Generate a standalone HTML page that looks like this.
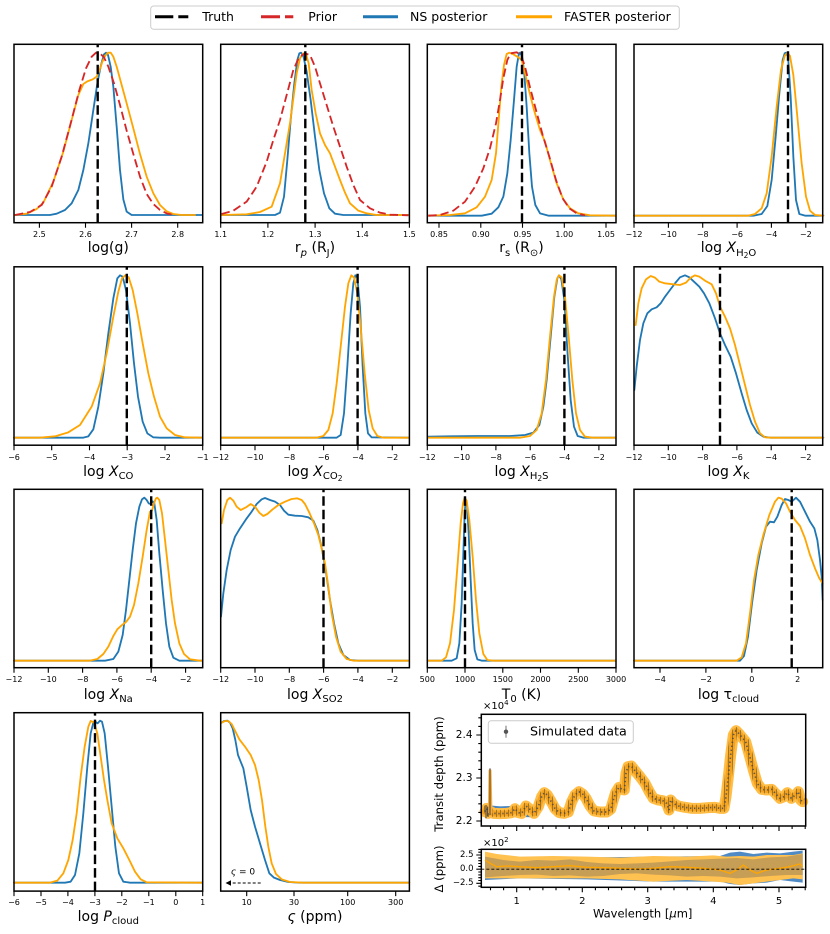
<!DOCTYPE html>
<html><head><meta charset="utf-8">
<style>
html,body{margin:0;padding:0;background:#fff}
body{width:830px;height:934px;position:relative;overflow:hidden;font-family:"DejaVu Sans","Liberation Sans",sans-serif;color:#000}
svg{position:absolute;left:0;top:0}
.t{position:absolute;font-size:8px;line-height:1;transform:translate(-50%,-50%);white-space:nowrap}
.al{position:absolute;font-size:14px;line-height:1;transform:translate(-50%,-50%);white-space:nowrap}
.al sub{font-size:10px;vertical-align:baseline;position:relative;top:3.5px}
.al sub sub{font-size:7.5px;top:2px}
.al i{font-style:italic}
.lg{position:absolute;font-size:12.5px;line-height:1;transform:translateY(-50%);white-space:nowrap}
.yr{position:absolute;line-height:1;transform:translate(-100%,-50%);white-space:nowrap}
</style></head><body>
<svg width="830" height="934" viewBox="0 0 830 934">
<defs>
<pattern id="eb" patternUnits="userSpaceOnUse" width="12" height="10"><rect x="0" y="0" width="2.5" height="10" fill="#3c3c3c" fill-opacity="0.55"/></pattern>
</defs>
<style>
.b{fill:none;stroke:#1f77b4;stroke-width:5.5;stroke-linejoin:round;stroke-linecap:round}
.o{fill:none;stroke:#ffa500;stroke-width:5.5;stroke-linejoin:round;stroke-linecap:round}
.r{fill:none;stroke:#d62728;stroke-width:5.5;stroke-dasharray:25 12;stroke-linejoin:round}
.k{stroke:#000;stroke-width:2.4;stroke-dasharray:9.5 4}
.fr{fill:none;stroke:#000;stroke-width:1.5}
.tk{stroke:#000;stroke-width:1.1;fill:none}
</style>

<g transform="translate(0 0) scale(0.333333)">
<polyline class="b" points="45,645 150,645 170,641 195,630 215,610 235,570 250,510 265,430 280,330 292,250 303,195 312,163 318,158 324,165 332,200 340,260 350,380 360,510 370,598 380,635 395,645 606,645"/>
<polyline class="o" points="45,645 80,641 110,627 130,608 160,545 190,455 215,360 235,285 250,252 262,244 278,238 290,230 298,212 306,188 315,168 324,158 332,158 340,170 350,200 365,255 380,310 400,385 420,462 440,530 460,580 480,615 500,634 520,642 545,645 585,645"/>
<polyline class="r" points="45,645 90,636 125,615 155,560 185,470 212,370 238,270 258,205 275,170 288,158 300,160 312,172 325,200 342,250 360,315 380,392 400,462 420,530 440,582 460,612 480,630 500,640 520,645"/>
<polyline class="b" points="665,645 825,645 840,638 852,590 862,480 872,360 883,250 892,180 898,160 903,158 910,168 920,215 932,300 945,410 958,510 972,580 988,625 1005,641 1030,645 1225,645"/>
<polyline class="o" points="665,645 740,643 780,636 815,620 840,550 855,460 870,370 882,280 890,220 900,175 910,160 918,162 926,190 935,270 947,340 960,400 975,435 990,460 1005,500 1020,540 1035,578 1050,610 1075,632 1100,640 1130,645 1225,645"/>
<polyline class="r" points="665,642 700,632 740,605 770,560 800,485 820,420 840,360 860,285 880,210 897,172 915,160 930,165 945,200 960,250 980,315 1000,380 1020,440 1040,500 1060,555 1080,600 1110,625 1140,638 1170,644 1225,646"/>
</g>
<g transform="translate(410 0) scale(0.333333)">
<polyline class="b" points="55,647 215,647 245,641 265,622 280,590 292,520 302,420 312,300 320,200 326,165 330,158 336,168 342,210 350,320 358,460 366,560 376,615 390,640 415,647 617,647"/>
<polyline class="o" points="55,647 120,645 165,640 200,622 225,590 245,540 258,460 266,360 274,260 282,195 290,162 298,158 310,163 325,172 335,180 345,220 358,275 372,330 390,390 405,425 420,480 440,550 460,598 480,625 505,640 540,646 617,647"/>
<polyline class="r" points="55,647 90,645 130,632 165,605 195,560 220,505 240,445 258,370 270,300 280,235 292,180 302,160 320,157 333,165 345,200 360,262 378,330 398,405 418,470 438,540 458,595 478,625 500,640 525,646"/>
<polyline class="b" points="672,647 1030,647 1055,642 1072,618 1085,540 1097,410 1108,280 1118,180 1124,160 1128,158 1134,168 1142,290 1150,470 1158,600 1168,642 1185,647 1240,647"/>
<polyline class="o" points="672,647 1015,647 1035,642 1055,625 1070,580 1085,470 1100,320 1113,210 1124,168 1132,158 1140,168 1150,225 1162,350 1175,490 1188,590 1200,632 1215,645 1240,647"/>
</g>
<g transform="translate(0 240) scale(0.333333)">
<polyline class="b" points="42,593 250,593 265,589 280,568 295,500 310,400 325,280 340,175 352,115 360,106 368,110 378,150 390,250 402,370 414,470 428,545 442,580 460,592 480,593 606,593"/>
<polyline class="o" points="42,593 120,593 165,589 205,577 240,555 275,500 300,430 320,340 340,230 355,155 366,115 376,106 386,112 398,150 412,220 428,310 445,400 462,470 480,530 500,565 525,585 555,592 606,593"/>
<polyline class="b" points="665,593 1010,593 1022,585 1032,520 1042,380 1052,220 1060,130 1066,106 1072,112 1080,200 1088,380 1096,520 1104,580 1115,592 1225,593"/>
<polyline class="o" points="665,593 950,593 970,588 985,570 998,520 1010,430 1022,320 1035,200 1045,130 1054,106 1062,112 1072,160 1082,260 1094,400 1106,510 1118,565 1132,588 1150,593 1225,593"/>
</g>
<g transform="translate(410 240) scale(0.333333)">
<polyline class="b" points="55,590 120,589 200,588 300,588 345,585 370,578 388,555 400,500 410,420 422,290 433,170 442,115 447,106 454,118 463,180 472,330 482,480 492,560 503,588 520,593 617,593"/>
<polyline class="o" points="55,593 330,593 360,588 380,570 395,520 408,420 420,290 432,170 440,120 447,106 455,112 465,170 476,290 487,420 498,520 510,570 525,590 550,593 617,593"/>
<polyline class="b" points="673,450 680,380 690,300 700,250 712,220 725,208 740,202 752,190 765,170 780,150 795,130 810,112 825,106 838,112 852,125 868,140 882,160 898,190 915,235 930,280 945,315 962,350 978,400 995,460 1010,510 1025,550 1042,578 1060,590 1080,593 1240,593"/>
<polyline class="o" points="677,255 685,190 695,145 708,118 722,108 735,113 748,125 765,130 790,133 810,135 828,128 842,113 855,106 868,110 885,122 905,133 918,160 930,200 945,230 960,265 975,315 990,375 1005,435 1020,495 1035,545 1050,580 1065,592 1085,593 1240,593"/>
</g>
<g transform="translate(0 480) scale(0.333333)">
<polyline class="b" points="42,542 315,542 340,537 355,515 368,465 378,390 388,300 398,210 408,130 418,80 426,58 433,53 440,60 446,70 452,72 458,64 463,70 470,120 478,220 488,330 498,430 508,500 520,533 538,542 606,542"/>
<polyline class="o" points="42,542 270,542 292,537 310,522 325,500 340,468 352,448 365,436 378,426 390,410 402,375 415,310 428,230 440,150 450,95 456,92 462,70 468,55 472,53 478,60 486,100 495,180 505,270 515,360 525,430 538,490 552,522 570,538 600,542 606,542"/>
<polyline class="b" points="663,410 670,340 680,270 692,210 705,170 720,145 738,118 755,95 770,72 785,58 795,54 810,60 825,65 840,75 852,92 865,104 885,107 905,108 925,112 940,122 952,150 962,190 970,230 980,290 990,360 1002,430 1015,490 1030,525 1050,540 1075,542 1225,542"/>
<polyline class="o" points="665,130 672,90 682,60 690,53 700,62 710,80 722,90 738,82 752,72 765,80 778,98 790,108 802,102 818,88 835,75 855,65 875,57 892,55 905,60 915,72 928,98 942,130 955,165 965,205 975,250 985,320 995,400 1008,470 1022,515 1040,537 1060,542 1225,542"/>
</g>
<g transform="translate(410 480) scale(0.333333)">
<polyline class="b" points="52,542 125,542 140,535 148,490 155,370 160,220 164,100 167,58 171,75 176,160 182,300 188,430 194,510 202,538 215,542 617,542"/>
<polyline class="o" points="52,542 95,542 108,532 120,490 132,390 143,250 152,130 159,70 164,53 170,62 178,120 188,230 198,360 208,460 220,522 232,540 250,542 617,542"/>
<polyline class="b" points="672,542 990,542 1002,528 1014,470 1026,370 1040,270 1055,190 1068,140 1080,125 1092,127 1102,110 1115,75 1125,57 1135,60 1145,65 1158,53 1170,65 1185,95 1200,125 1213,145 1222,180 1230,240 1235,290 1238,360"/>
<polyline class="o" points="672,542 980,542 995,532 1008,490 1020,400 1032,300 1045,225 1060,165 1078,105 1095,65 1105,53 1115,56 1128,70 1140,95 1155,120 1170,138 1185,175 1200,225 1215,265 1228,295 1238,310"/>
</g>
<g transform="translate(0 700) scale(0.333333)">
<polyline class="b" points="42,548 195,548 212,545 225,525 238,460 250,340 262,200 272,100 280,68 287,66 293,70 300,62 306,65 314,100 324,200 335,320 346,440 357,520 370,545 390,548 606,548"/>
<polyline class="o" points="42,548 150,548 172,542 190,520 205,480 218,420 230,340 242,230 254,140 265,80 272,63 282,67 292,100 302,170 312,240 322,300 335,370 352,415 370,445 388,480 405,515 422,538 440,547 606,548"/>
<polyline class="b" points="665,68 672,63 682,62 690,68 698,85 706,120 714,165 722,185 730,205 740,260 752,330 765,380 780,430 795,480 808,520 822,533 840,540 865,546 900,548 1228,548"/>
<polyline class="o" points="665,68 675,63 685,63 695,72 705,92 718,118 735,140 752,165 765,195 776,240 786,300 796,380 805,440 815,490 828,522 845,538 870,546 910,548 1228,548"/>
</g>

<line class="k" x1="97.7" y1="222.7" x2="97.7" y2="44.3"/>
<line class="k" x1="305.3" y1="222.7" x2="305.3" y2="44.3"/>
<line class="k" x1="522" y1="222.7" x2="522" y2="44.3"/>
<line class="k" x1="788" y1="222.7" x2="788" y2="44.3"/>
<line class="k" x1="126.8" y1="445.2" x2="126.8" y2="266.8"/>
<line class="k" x1="357.6" y1="445.2" x2="357.6" y2="266.8"/>
<line class="k" x1="564.4" y1="445.2" x2="564.4" y2="266.8"/>
<line class="k" x1="720" y1="445.2" x2="720" y2="266.8"/>
<line class="k" x1="151.2" y1="667.7" x2="151.2" y2="489.3"/>
<line class="k" x1="323.5" y1="667.7" x2="323.5" y2="489.3"/>
<line class="k" x1="465" y1="667.7" x2="465" y2="489.3"/>
<line class="k" x1="791.7" y1="667.7" x2="791.7" y2="489.3"/>
<line class="k" x1="95" y1="891.1" x2="95" y2="712.7"/>

<line x1="260.7" y1="883" x2="230" y2="883" stroke="#000" stroke-width="1" stroke-dasharray="3 2"/>
<polygon points="225.5,883 231,880.3 231,885.7" fill="#000"/>

<g transform="translate(420 700) scale(0.333333)">
<polyline fill="none" stroke="#4a86c0" stroke-width="34" stroke-linejoin="round" points="195,332 240,336 300,334 350,335"/>
<polyline id="spec" fill="none" stroke="#ffbd45" stroke-width="33" stroke-linejoin="round" stroke-linecap="round" points="195,335 200,325 205,340 212,335 220,340 240,341 260,340 275,338 285,326 295,338 305,340 318,318 330,328 342,340 355,320 365,290 373,278 382,285 392,302 405,326 418,338 432,340 445,336 455,305 465,285 477,275 488,282 498,295 510,318 522,333 540,336 560,336 572,328 580,300 587,278 597,262 606,268 613,270 618,220 624,200 634,198 645,212 660,230 675,250 688,275 700,295 715,300 728,302 740,310 747,330 752,300 760,310 775,318 795,322 815,325 840,325 865,323 885,322 900,325 912,325 918,290 925,230 932,165 940,105 948,92 956,100 966,112 977,125 988,165 1000,210 1012,250 1025,268 1040,270 1055,268 1068,282 1080,295 1092,290 1102,278 1114,295 1126,285 1135,275 1142,300 1148,305"/>
<polyline fill="none" stroke="#f5a21c" stroke-width="18" stroke-linejoin="round" stroke-linecap="round" points="195,335 200,325 205,340 212,335 220,340 240,341 260,340 275,338 285,326 295,338 305,340 318,318 330,328 342,340 355,320 365,290 373,278 382,285 392,302 405,326 418,338 432,340 445,336 455,305 465,285 477,275 488,282 498,295 510,318 522,333 540,336 560,336 572,328 580,300 587,278 597,262 606,268 613,270 618,220 624,200 634,198 645,212 660,230 675,250 688,275 700,295 715,300 728,302 740,310 747,330 752,300 760,310 775,318 795,322 815,325 840,325 865,323 885,322 900,325 912,325 918,290 925,230 932,165 940,105 948,92 956,100 966,112 977,125 988,165 1000,210 1012,250 1025,268 1040,270 1055,268 1068,282 1080,295 1092,290 1102,278 1114,295 1126,285 1135,275 1142,300 1148,305"/>
<polyline fill="none" stroke="url(#eb)" stroke-width="22" stroke-linejoin="round" points="195,335 200,325 205,340 212,335 220,340 240,341 260,340 275,338 285,326 295,338 305,340 318,318 330,328 342,340 355,320 365,290 373,278 382,285 392,302 405,326 418,338 432,340 445,336 455,305 465,285 477,275 488,282 498,295 510,318 522,333 540,336 560,336 572,328 580,300 587,278 597,262 606,268 613,270 618,220 624,200 634,198 645,212 660,230 675,250 688,275 700,295 715,300 728,302 740,310 747,330 752,300 760,310 775,318 795,322 815,325 840,325 865,323 885,322 900,325 912,325 918,290 925,230 932,165 940,105 948,92 956,100 966,112 977,125 988,165 1000,210 1012,250 1025,268 1040,270 1055,268 1068,282 1080,295 1092,290 1102,278 1114,295 1126,285 1135,275 1142,300 1148,305"/>
<polyline fill="none" stroke="#4a4a4a" stroke-width="5" stroke-dasharray="4 8" stroke-opacity="0.85" points="195,335 200,325 205,340 212,335 220,340 240,341 260,340 275,338 285,326 295,338 305,340 318,318 330,328 342,340 355,320 365,290 373,278 382,285 392,302 405,326 418,338 432,340 445,336 455,305 465,285 477,275 488,282 498,295 510,318 522,333 540,336 560,336 572,328 580,300 587,278 597,262 606,268 613,270 618,220 624,200 634,198 645,212 660,230 675,250 688,275 700,295 715,300 728,302 740,310 747,330 752,300 760,310 775,318 795,322 815,325 840,325 865,323 885,322 900,325 912,325 918,290 925,230 932,165 940,105 948,92 956,100 966,112 977,125 988,165 1000,210 1012,250 1025,268 1040,270 1055,268 1068,282 1080,295 1092,290 1102,278 1114,295 1126,285 1135,275 1142,300 1148,305"/>
<path d="M208,340 L210,212 L213,340" fill="none" stroke="#ffab2e" stroke-width="9" stroke-linejoin="round"/>
<path d="M210,345 L210,205" stroke="#555" stroke-width="3.5"/>
<path d="M198,315 V355 M203,320 V350" stroke="#444" stroke-width="3"/>
<polygon fill="#4f8ac5" points="195,462 300,472 500,472 700,470 900,468 930,458 960,455 1000,462 1040,458 1080,460 1120,455 1148,452 1148,548 1120,545 1080,540 1040,548 1000,550 960,555 930,552 900,545 700,545 500,538 300,535 195,540"/>
<polygon fill="#ffc150" points="195,455 230,462 300,470 400,468 500,470 600,473 700,468 800,470 880,466 920,470 960,468 1000,470 1040,465 1080,465 1120,465 1148,460 1148,538 1120,535 1080,540 1040,545 1000,550 960,555 920,548 880,545 800,540 700,545 600,538 500,535 400,535 300,535 230,535 195,535"/>
<polygon fill="#c79e55" points="195,470 250,480 300,485 350,480 400,482 450,478 500,486 550,490 600,492 650,490 700,488 750,484 800,480 850,478 900,476 950,474 1000,478 1050,472 1100,470 1148,462 1148,525 1100,525 1050,528 1000,532 950,535 900,530 850,528 800,530 750,526 700,524 650,520 600,522 550,528 500,530 450,526 400,528 350,524 300,525 250,528 195,532"/>
<polyline fill="none" stroke="#ffa500" stroke-width="4" stroke-linejoin="round" points="195,480 210,490 230,500 260,498 300,500 350,503 400,500 450,497 500,502 550,503 600,505 650,507 700,505 750,500 800,502 850,505 900,510 930,520 950,510 970,495 990,510 1010,520 1040,510 1080,505 1110,500 1140,492 1148,500"/>
</g>
<line x1="481.3" y1="869.2" x2="805.7" y2="869.2" stroke="#000" stroke-width="0.8" stroke-dasharray="3 2"/>

<rect class="fr" x="14" y="44.3" width="188.7" height="178.4"/>
<rect class="fr" x="220.7" y="44.3" width="188.7" height="178.4"/>
<rect class="fr" x="427.3" y="44.3" width="188.7" height="178.4"/>
<rect class="fr" x="634" y="44.3" width="188.7" height="178.4"/>
<rect class="fr" x="14" y="266.8" width="188.7" height="178.4"/>
<rect class="fr" x="220.7" y="266.8" width="188.7" height="178.4"/>
<rect class="fr" x="427.3" y="266.8" width="188.7" height="178.4"/>
<rect class="fr" x="634" y="266.8" width="188.7" height="178.4"/>
<rect class="fr" x="14" y="489.3" width="188.7" height="178.4"/>
<rect class="fr" x="220.7" y="489.3" width="188.7" height="178.4"/>
<rect class="fr" x="427.3" y="489.3" width="188.7" height="178.4"/>
<rect class="fr" x="634" y="489.3" width="188.7" height="178.4"/>
<rect class="fr" x="14" y="712.7" width="188.7" height="178.4"/>
<rect class="fr" x="220.7" y="712.7" width="188.7" height="178.4"/>
<rect class="fr" x="481.3" y="714.3" width="324.4" height="111.7"/>
<rect class="fr" x="481.3" y="849.3" width="324.4" height="38"/>

<path class="tk" d="M39.4,222.7v5M85.5,222.7v5M131.6,222.7v5M177.7,222.7v5M220.7,222.7v5M267.9,222.7v5M315.1,222.7v5M362.3,222.7v5M409.4,222.7v5M439,222.7v5M480.8,222.7v5M522.5,222.7v5M564.3,222.7v5M606,222.7v5M634,222.7v5M668.4,222.7v5M702.7,222.7v5M737.1,222.7v5M771.4,222.7v5M805.8,222.7v5"/>
<path class="tk" d="M14,445.2v5M51.7,445.2v5M89.5,445.2v5M127.2,445.2v5M165,445.2v5M202.7,445.2v5M220.7,445.2v5M255,445.2v5M289.3,445.2v5M323.6,445.2v5M357.9,445.2v5M392.3,445.2v5M427.3,445.2v5M461.6,445.2v5M495.9,445.2v5M530.2,445.2v5M564.5,445.2v5M598.9,445.2v5M634,445.2v5M668.3,445.2v5M702.6,445.2v5M736.9,445.2v5M771.2,445.2v5M805.6,445.2v5"/>
<path class="tk" d="M14,667.7v5M48.3,667.7v5M82.6,667.7v5M116.9,667.7v5M151.2,667.7v5M185.6,667.7v5M220.7,667.7v5M255,667.7v5M289.3,667.7v5M323.6,667.7v5M357.9,667.7v5M392.3,667.7v5M427.3,667.7v5M465,667.7v5M502.8,667.7v5M540.5,667.7v5M578.3,667.7v5M616,667.7v5M660,667.7v5M705.9,667.7v5M751.8,667.7v5M797.7,667.7v5"/>
<path class="tk" d="M14,891.1v5M41,891.1v5M67.9,891.1v5M94.9,891.1v5M121.8,891.1v5M148.8,891.1v5M175.8,891.1v5M202.7,891.1v5M246.7,891.1v5M294,891.1v5M347.7,891.1v5M395.7,891.1v5"/>
<path class="tk" d="M516.7,826v5M582.3,826v5M647.7,826v5M713.3,826v5M779,826v5M516.7,887.3v5M582.3,887.3v5M647.7,887.3v5M713.3,887.3v5M779,887.3v5"/>
<path class="tk" stroke-width="0.9" d="M490.5,826v3M503.6,826v3M529.8,826v3M542.9,826v3M556,826v3M569.2,826v3M595.4,826v3M608.5,826v3M621.6,826v3M634.7,826v3M660.9,826v3M674,826v3M687.2,826v3M700.3,826v3M726.4,826v3M739.5,826v3M752.7,826v3M765.8,826v3M792.1,826v3M805.2,826v3M490.5,887.3v3M503.6,887.3v3M529.8,887.3v3M542.9,887.3v3M556,887.3v3M569.2,887.3v3M595.4,887.3v3M608.5,887.3v3M621.6,887.3v3M634.7,887.3v3M660.9,887.3v3M674,887.3v3M687.2,887.3v3M700.3,887.3v3M726.4,887.3v3M739.5,887.3v3M752.7,887.3v3M765.8,887.3v3M792.1,887.3v3M805.2,887.3v3"/>
<path class="tk" d="M481.3,821h-5M481.3,778h-5M481.3,735h-5M481.3,855h-5M481.3,869.2h-5M481.3,883.3h-5"/>
<path class="tk" stroke-width="0.9" d="M481.3,812.4h-3M481.3,803.8h-3M481.3,795.2h-3M481.3,786.6h-3M481.3,769.4h-3M481.3,760.8h-3M481.3,752.2h-3M481.3,743.6h-3M481.3,726.4h-3M481.3,717.8h-3M481.3,886.2h-3M481.3,880.5h-3M481.3,877.7h-3M481.3,874.9h-3M481.3,872h-3M481.3,866.4h-3M481.3,863.5h-3M481.3,860.7h-3M481.3,857.9h-3M481.3,852.2h-3M481.3,849.4h-3"/>

<rect x="150.7" y="6" width="528.6" height="23.3" rx="3" fill="#fff" fill-opacity="0.8" stroke="#cccccc" stroke-width="1"/>
<path d="M155,16.7H173.3M178.3,16.7H188.3" stroke="#000" stroke-width="3"/>
<path d="M261,16.7H280M285,16.7H293.3" stroke="#d62728" stroke-width="3"/>
<path d="M363,16.7H398" stroke="#1f77b4" stroke-width="3"/>
<path d="M516,16.7H552" stroke="#ffa500" stroke-width="3"/>
<rect x="488.3" y="720.7" width="145" height="22.6" rx="3" fill="#fff" fill-opacity="0.8" stroke="#cccccc" stroke-width="1"/>
<line x1="506" y1="725.7" x2="506" y2="737.7" stroke="#888" stroke-width="1.2"/>
<circle cx="506" cy="731.7" r="2.2" fill="#555"/>
</svg>

<div class="lg" style="left:202.3px;top:16.7px">Truth</div>
<div class="lg" style="left:308.3px;top:16.7px">Prior</div>
<div class="lg" style="left:410px;top:16.7px">NS posterior</div>
<div class="lg" style="left:564px;top:16.7px">FASTER posterior</div>

<div class="t" style="left:39.4px;top:235px">2.5</div>
<div class="t" style="left:85.5px;top:235px">2.6</div>
<div class="t" style="left:131.6px;top:235px">2.7</div>
<div class="t" style="left:177.7px;top:235px">2.8</div>
<div class="t" style="left:220.7px;top:235px">1.1</div>
<div class="t" style="left:267.9px;top:235px">1.2</div>
<div class="t" style="left:315.1px;top:235px">1.3</div>
<div class="t" style="left:362.3px;top:235px">1.4</div>
<div class="t" style="left:409.4px;top:235px">1.5</div>
<div class="t" style="left:439px;top:235px">0.85</div>
<div class="t" style="left:480.8px;top:235px">0.90</div>
<div class="t" style="left:522.5px;top:235px">0.95</div>
<div class="t" style="left:564.3px;top:235px">1.00</div>
<div class="t" style="left:606px;top:235px">1.05</div>
<div class="t" style="left:634px;top:235px">−12</div>
<div class="t" style="left:668.4px;top:235px">−10</div>
<div class="t" style="left:702.7px;top:235px">−8</div>
<div class="t" style="left:737.1px;top:235px">−6</div>
<div class="t" style="left:771.4px;top:235px">−4</div>
<div class="t" style="left:805.8px;top:235px">−2</div>
<div class="t" style="left:14px;top:457.6px">−6</div>
<div class="t" style="left:51.7px;top:457.6px">−5</div>
<div class="t" style="left:89.5px;top:457.6px">−4</div>
<div class="t" style="left:127.2px;top:457.6px">−3</div>
<div class="t" style="left:165px;top:457.6px">−2</div>
<div class="t" style="left:202.7px;top:457.6px">−1</div>
<div class="t" style="left:220.7px;top:457.6px">−12</div>
<div class="t" style="left:255px;top:457.6px">−10</div>
<div class="t" style="left:289.3px;top:457.6px">−8</div>
<div class="t" style="left:323.6px;top:457.6px">−6</div>
<div class="t" style="left:357.9px;top:457.6px">−4</div>
<div class="t" style="left:392.3px;top:457.6px">−2</div>
<div class="t" style="left:427.3px;top:457.6px">−12</div>
<div class="t" style="left:461.6px;top:457.6px">−10</div>
<div class="t" style="left:495.9px;top:457.6px">−8</div>
<div class="t" style="left:530.2px;top:457.6px">−6</div>
<div class="t" style="left:564.5px;top:457.6px">−4</div>
<div class="t" style="left:598.9px;top:457.6px">−2</div>
<div class="t" style="left:634px;top:457.6px">−12</div>
<div class="t" style="left:668.3px;top:457.6px">−10</div>
<div class="t" style="left:702.6px;top:457.6px">−8</div>
<div class="t" style="left:736.9px;top:457.6px">−6</div>
<div class="t" style="left:771.2px;top:457.6px">−4</div>
<div class="t" style="left:805.6px;top:457.6px">−2</div>
<div class="t" style="left:14px;top:680.2px">−12</div>
<div class="t" style="left:48.3px;top:680.2px">−10</div>
<div class="t" style="left:82.6px;top:680.2px">−8</div>
<div class="t" style="left:116.9px;top:680.2px">−6</div>
<div class="t" style="left:151.2px;top:680.2px">−4</div>
<div class="t" style="left:185.6px;top:680.2px">−2</div>
<div class="t" style="left:220.7px;top:680.2px">−12</div>
<div class="t" style="left:255px;top:680.2px">−10</div>
<div class="t" style="left:289.3px;top:680.2px">−8</div>
<div class="t" style="left:323.6px;top:680.2px">−6</div>
<div class="t" style="left:357.9px;top:680.2px">−4</div>
<div class="t" style="left:392.3px;top:680.2px">−2</div>
<div class="t" style="left:427.3px;top:680.2px">500</div>
<div class="t" style="left:465px;top:680.2px">1000</div>
<div class="t" style="left:502.8px;top:680.2px">1500</div>
<div class="t" style="left:540.5px;top:680.2px">2000</div>
<div class="t" style="left:578.3px;top:680.2px">2500</div>
<div class="t" style="left:616px;top:680.2px">3000</div>
<div class="t" style="left:660px;top:680.2px">−4</div>
<div class="t" style="left:705.9px;top:680.2px">−2</div>
<div class="t" style="left:751.8px;top:680.2px">0</div>
<div class="t" style="left:797.7px;top:680.2px">2</div>
<div class="t" style="left:14px;top:902.5px">−6</div>
<div class="t" style="left:41px;top:902.5px">−5</div>
<div class="t" style="left:67.9px;top:902.5px">−4</div>
<div class="t" style="left:94.9px;top:902.5px">−3</div>
<div class="t" style="left:121.8px;top:902.5px">−2</div>
<div class="t" style="left:148.8px;top:902.5px">−1</div>
<div class="t" style="left:175.8px;top:902.5px">0</div>
<div class="t" style="left:202.7px;top:902.5px">1</div>
<div class="t" style="left:246.7px;top:902.5px">10</div>
<div class="t" style="left:294px;top:902.5px">30</div>
<div class="t" style="left:347.7px;top:902.5px">100</div>
<div class="t" style="left:395.7px;top:902.5px">300</div>

<div class="al" style="left:108.3px;top:248.3px">log(g)</div>
<div class="al" style="left:315px;top:248.3px">r<sub><i>p</i></sub> (R<sub>J</sub>)</div>
<div class="al" style="left:521.5px;top:248.3px">r<sub>s</sub> (R<sub>⊙</sub>)</div>
<div class="al" style="left:728.5px;top:248.3px">log <i>X</i><sub>H<sub>2</sub>O</sub></div>
<div class="al" style="left:108.3px;top:471.5px">log <i>X</i><sub>CO</sub></div>
<div class="al" style="left:315px;top:471.5px">log <i>X</i><sub>CO<sub>2</sub></sub></div>
<div class="al" style="left:521.5px;top:471.5px">log <i>X</i><sub>H<sub>2</sub>S</sub></div>
<div class="al" style="left:728.5px;top:471.5px">log <i>X</i><sub>K</sub></div>
<div class="al" style="left:108.3px;top:694.5px">log <i>X</i><sub>Na</sub></div>
<div class="al" style="left:315px;top:694.5px">log <i>X</i><sub>SO2</sub></div>
<div class="al" style="left:521.5px;top:694.5px">T<sub>0</sub> (K)</div>
<div class="al" style="left:728.5px;top:694.5px">log τ<sub>cloud</sub></div>
<div class="al" style="left:108.3px;top:916.5px">log <i>P</i><sub>cloud</sub></div>
<div class="al" style="left:315px;top:916.5px"><i>ς</i> (ppm)</div>

<div class="t" style="left:243px;top:872.5px;font-size:9px"><i>ς</i> = 0</div>

<div class="yr" style="left:472.5px;top:821px;font-size:10.5px">2.2</div>
<div class="yr" style="left:472.5px;top:778px;font-size:10.5px">2.3</div>
<div class="yr" style="left:472.5px;top:735px;font-size:10.5px">2.4</div>
<div class="yr" style="left:473.5px;top:855px;font-size:8.5px">2.5</div>
<div class="yr" style="left:473.5px;top:869.2px;font-size:8.5px">0.0</div>
<div class="yr" style="left:473.5px;top:883.3px;font-size:8.5px">−2.5</div>
<div style="position:absolute;left:483px;top:702px;font-size:10px;line-height:1;white-space:nowrap">×10<span style="font-size:7px;position:relative;top:-4px">4</span></div>
<div style="position:absolute;left:483px;top:839px;font-size:10px;line-height:1;white-space:nowrap">×10<span style="font-size:7px;position:relative;top:-4px">2</span></div>
<div class="t" style="left:516.7px;top:902.3px;font-size:10px">1</div>
<div class="t" style="left:582.3px;top:902.3px;font-size:10px">2</div>
<div class="t" style="left:647.7px;top:902.3px;font-size:10px">3</div>
<div class="t" style="left:713.3px;top:902.3px;font-size:10px">4</div>
<div class="t" style="left:779px;top:902.3px;font-size:10px">5</div>
<div class="t" style="left:642.7px;top:914px;font-size:11.5px">Wavelength [<i>μ</i>m]</div>
<div class="t" style="left:440px;top:774px;font-size:11.7px;transform:translate(-50%,-50%) rotate(-90deg)">Transit depth (ppm)</div>
<div class="t" style="left:440px;top:869px;font-size:11.7px;transform:translate(-50%,-50%) rotate(-90deg)">Δ (ppm)</div>
<div style="position:absolute;left:530px;top:731.7px;font-size:12.7px;line-height:1;transform:translateY(-50%);white-space:nowrap">Simulated data</div>
</body></html>
